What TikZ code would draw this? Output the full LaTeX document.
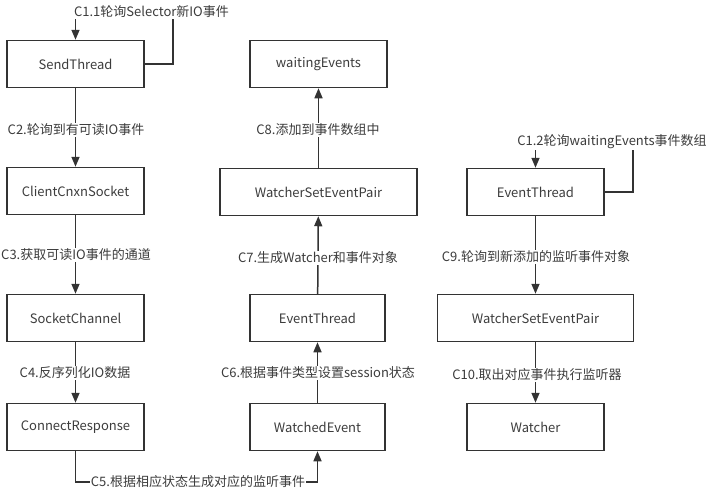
\documentclass[tikz,border=0pt]{standalone}
\usepackage{fontspec}
\setmainfont{Noto Sans CJK SC}
\usetikzlibrary{arrows.meta}
\definecolor{ink}{HTML}{333333}
\definecolor{txt}{HTML}{3C3C3C}
\tikzset{
  box/.style={draw=ink, line width=1.5pt, minimum height=47pt, inner sep=0pt, text=txt, font=\fontsize{13}{15}\selectfont},
  lbl/.style={fill=white, inner sep=1pt, text=txt, font=\fontsize{13}{15}\selectfont},
  conn/.style={draw=ink, line width=1.5pt, -{Triangle[length=10pt,width=8pt]}},
}
\begin{document}
\begin{tikzpicture}[x=1pt,y=-1pt]
\useasboundingbox (0,0) rectangle (710,496);
% left column
\node[box, minimum width=137pt] (send) at (75.5,64) {SendThread};
\node[box, minimum width=137pt] (ccs) at (75.5,191) {ClientCnxnSocket};
\node[box, minimum width=137pt] (sc) at (75.5,318) {SocketChannel};
\node[box, minimum width=137pt] (cr) at (75.5,427) {ConnectResponse};
% middle column
\node[box, minimum width=137pt] (we) at (318.5,64) {waitingEvents};
\node[box, minimum width=197pt] (wsep) at (318.5,192) {WatcherSetEventPair};
\node[box, minimum width=135pt] (et) at (317.5,318) {EventThread};
\node[box, minimum width=135pt] (wev) at (317.5,427) {WatchedEvent};
% right column
\node[box, minimum width=137pt] (et2) at (535.5,192) {EventThread};
\node[box, minimum width=196pt] (wsep2) at (535.5,318) {WatcherSetEventPair};
\node[box, minimum width=137pt] (w) at (535.5,427) {Watcher};

\coordinate (c1a) at (173,12);
\coordinate (c1b) at (633,142);
\coordinate (c5) at (198,482);

% connectors
\draw[conn] (send.east) -| (c1a) -| (send.north);
\node[lbl] (l11) at (151.5,12) {C1.1轮询Selector新IO事件};

\draw[conn] (send) -- (ccs);
\node[lbl] (l2) at (76,130) {C2.轮询到有可读IO事件};
\draw[conn] (ccs) -- (sc);
\node[lbl] (l3) at (76,255) {C3.获取可读IO事件的通道};
\draw[conn] (sc) -- (cr);
\node[lbl] (l4) at (75,373) {C4.反序列化IO数据};
\draw[conn] (cr.south) |- (c5) -| (wev.south);
\node[lbl] (l5) at (c5) {C5.根据相应状态生成对应的监听事件};
\draw[conn] (wev) -- (et);
\node[lbl] (l6) at (318,373) {C6.根据事件类型设置session状态};
\draw[conn] (et) -- (wsep);
\node[lbl] (l7) at (318,258) {C7.生成Watcher和事件对象};
\draw[conn] (wsep) -- (we);
\node[lbl] (l8) at (318,130) {C8.添加到事件数组中};

\draw[conn] (et2.east) -| (c1b) -| (et2.north);
\node[lbl] (l12) at (612,142) {C1.2轮询waitingEvents事件数组};
\draw[conn] (et2) -- (wsep2);
\node[lbl] (l9) at (536,257) {C9.轮询到新添加的监听事件对象};
\draw[conn] (wsep2) -- (w);
\node[lbl] (l10) at (537,375) {C10.取出对应事件执行监听器};
\end{tikzpicture}
\end{document}
